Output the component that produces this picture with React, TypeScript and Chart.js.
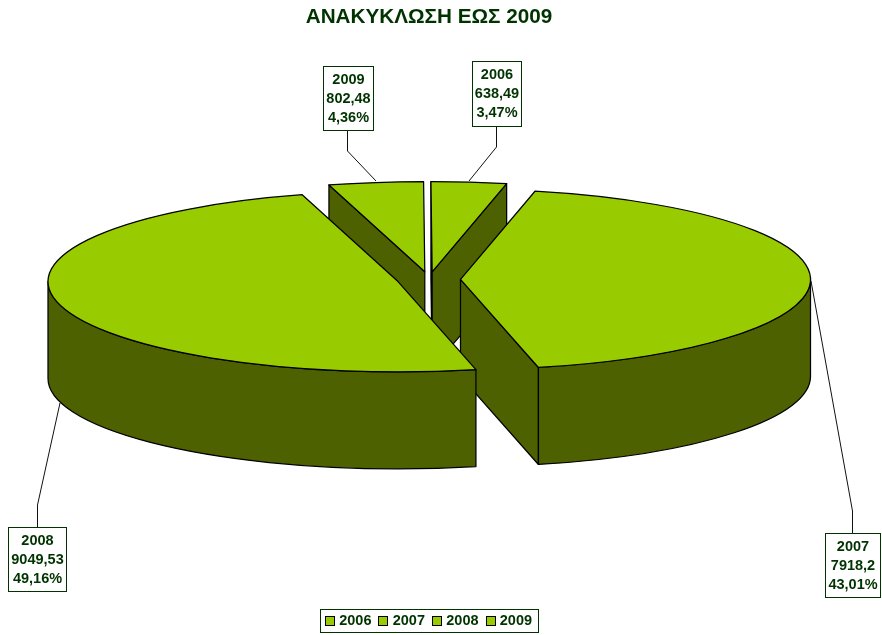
import React, { useEffect, useRef } from "react";
import { Chart, registerables } from "chart.js";

Chart.register(...registerables);

const chartTitle = "ΑΝΑΚΥΚΛΩΣΗ ΕΩΣ 2009";
const categories = ["2006", "2007", "2008", "2009"];
const values = [638.49, 7918.2, 9049.53, 802.48];
const sliceOffsets = [30, 31.5, 32, 30];

const TOP = "#99CC00";
const WALL = "#4D6100";
const INK = "#003300";
const FONT = "'Liberation Sans', Arial, sans-serif";

const RADIUS = 350;
const SQUASH = 0.258;
const DEPTH = 97;
const CENTRE_Y = 279.5;
const PAINT_ORDER = [3, 0, 1, 2];

// callout placement per category: box [x, y, w, h], leader polyline
const callouts = [
  { box: [472, 61, 49, 65], line: [[496.5, 126], [496.5, 147], [469, 181]] },
  { box: [825, 533, 55, 64], line: [[852.5, 533], [852.5, 511], [811, 281]] },
  { box: [8, 527, 58, 64], line: [[37.5, 527], [37.5, 505], [60, 403]] },
  { box: [323, 66, 50, 64], line: [[347.5, 130], [347.5, 151], [376, 181]] },
];

const pie3d = {
  id: "pie3d",
  beforeDatasetDraw(chart: any, args: any) {
    const { ctx } = chart;
    const arcs = args.meta.data;
    PAINT_ORDER.forEach((i) => {
      const arc = arcs[i];
      const a1 = arc.startAngle;
      const a2 = arc.endAngle;
      const mid = (a1 + a2) / 2;
      const off = arc.options.offset;
      const R = arc.outerRadius;
      const ry = R * SQUASH;
      const cx = arc.x + Math.cos(mid) * off;
      const cy = CENTRE_Y + Math.sin(mid) * off * SQUASH;
      const px = (a: number) => cx + R * Math.cos(a);
      const py = (a: number) => cy + ry * Math.sin(a);
      ctx.save();
      ctx.lineWidth = 1.25;
      ctx.lineJoin = "round";
      ctx.strokeStyle = "#000";
      const paint = (fill: string) => {
        ctx.fillStyle = fill;
        ctx.fill();
        ctx.stroke();
      };
      const face = (a: number) => {
        ctx.beginPath();
        ctx.moveTo(cx, cy);
        ctx.lineTo(px(a), py(a));
        ctx.lineTo(px(a), py(a) + DEPTH);
        ctx.lineTo(cx, cy + DEPTH);
        ctx.closePath();
        paint(WALL);
      };
      if (Math.cos(a1) < 0) face(a1);
      if (Math.cos(a2) > 0) face(a2);
      const lo = Math.max(a1, 0);
      const hi = Math.min(a2, Math.PI);
      if (hi > lo) {
        ctx.beginPath();
        ctx.ellipse(cx, cy, R, ry, 0, lo, hi, false);
        ctx.lineTo(px(hi), py(hi) + DEPTH);
        ctx.ellipse(cx, cy + DEPTH, R, ry, 0, hi, lo, true);
        ctx.closePath();
        paint(WALL);
      }
      ctx.beginPath();
      ctx.moveTo(cx, cy);
      ctx.ellipse(cx, cy, R, ry, 0, a1, a2, false);
      ctx.closePath();
      paint(arc.options.backgroundColor);
      ctx.restore();
    });
    return false;
  },
  afterDraw(chart: any) {
    const { ctx } = chart;
    const total = values.reduce((s, v) => s + v, 0);
    ctx.save();
    categories.forEach((cat, i) => {
      const { box, line } = callouts[i];
      ctx.strokeStyle = "#111";
      ctx.lineWidth = 1;
      ctx.beginPath();
      line.forEach(([x, y], n) => (n ? ctx.lineTo(x, y) : ctx.moveTo(x, y)));
      ctx.stroke();
      const [x, y, w, h] = box;
      ctx.fillStyle = "#fff";
      ctx.fillRect(x, y, w, h);
      ctx.strokeStyle = INK;
      ctx.strokeRect(x + 0.5, y + 0.5, w, h);
      ctx.fillStyle = INK;
      ctx.font = `bold 14.5px ${FONT}`;
      ctx.textAlign = "center";
      ctx.textBaseline = "middle";
      const rows = [
        cat,
        String(values[i]).replace(".", ","),
        ((values[i] / total) * 100).toFixed(2).replace(".", ",") + "%",
      ];
      rows.forEach((t, n) => ctx.fillText(t, x + w / 2 + 0.5, y + 14 + n * 19));
    });

    // legend frame and swatches
    const legend = chart.legend;
    const hits = legend.legendHitBoxes;
    const l = hits[0].left - 6;
    const r = hits[hits.length - 1].left + hits[hits.length - 1].width + 6;
    const t = hits[0].top - 5;
    const b = t + 23;
    ctx.strokeStyle = INK;
    ctx.lineWidth = 1;
    ctx.strokeRect(Math.round(l) + 0.5, Math.round(t) + 0.5, Math.round(r - l), Math.round(b - t));
    hits.forEach((hb: any) => {
      ctx.fillStyle = TOP;
      ctx.strokeStyle = "#000";
      const sx = Math.round(hb.left - 1) + 0.5;
      const sy = Math.round(hb.top + 2) + 0.5;
      ctx.fillRect(sx, sy, 9, 9);
      ctx.strokeRect(sx, sy, 9, 9);
    });
    ctx.restore();
  },
};

export default function App() {
  const ref = useRef<HTMLCanvasElement>(null);
  useEffect(() => {
    const chart = new Chart(ref.current as HTMLCanvasElement, {
      type: "pie",
      data: {
        labels: categories,
        datasets: [
          {
            data: values,
            backgroundColor: categories.map(() => TOP),
            borderWidth: 0,
            offset: sliceOffsets,
          } as any,
        ],
      },
      options: {
        animation: false,
        responsive: false,
        events: [],
        radius: RADIUS,
        rotation: -0.2,
        layout: { padding: { right: 24, bottom: -3, top: 0, left: 0 } },
        plugins: {
          title: {
            display: true,
            text: chartTitle,
            color: INK,
            font: { family: FONT, size: 20.7, weight: "bold" },
            padding: { top: 5, bottom: 6 },
          },
          legend: {
            display: true,
            position: "bottom",
            labels: {
              boxWidth: 6,
              boxHeight: 9,
              padding: 8,
              color: INK,
              font: { family: FONT, size: 14.5, weight: "bold" },
            },
          },
          tooltip: { enabled: false },
        },
      } as any,
      plugins: [pie3d],
    });
    return () => chart.destroy();
  }, []);
  return (
    <div style={{ position: "fixed", left: 0, top: 0 }}>
      <canvas ref={ref} width={882} height={635} style={{ display: "block" }} />
    </div>
  );
}
